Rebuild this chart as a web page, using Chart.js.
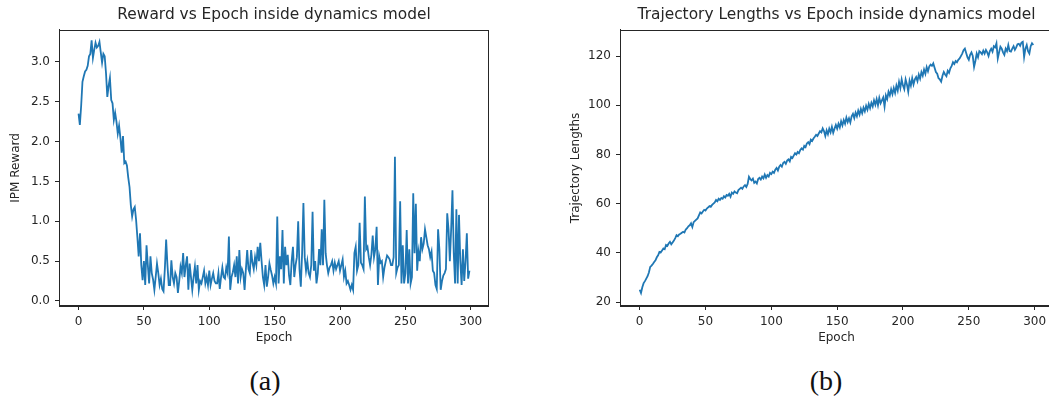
<!DOCTYPE html>
<html>
<head>
<meta charset="utf-8">
<script src="https://cdn.jsdelivr.net/npm/chart.js@4.4.0/dist/chart.umd.min.js"></script>
<style>
  html, body { margin: 0; padding: 0; background: #fff; overflow: hidden; }
  body { width: 1049px; height: 402px; position: relative; }
  canvas { position: absolute; top: 0; }
  #rewardChart { left: 0; }
  #lengthChart { left: 560px; }
  .caption { position: absolute; top: 365px; font-family: 'Liberation Serif', serif; font-size: 28px; color: #111; transform: translateX(-50%); }
</style>
</head>
<body>
<canvas id="rewardChart" width="489" height="350"></canvas>
<canvas id="lengthChart" width="493" height="350"></canvas>
<div class="caption" style="left:265px">(a)</div>
<div class="caption" style="left:826px">(b)</div>
<script>
'use strict';

// IPM reward per epoch
const reward = [
  2.35, 2.21, 2.45, 2.75, 2.82, 2.88, 2.9, 2.95, 3.07, 3.1,
  3.27, 3.05, 3.15, 3.24, 3.18, 3.2, 3.25, 3.12, 2.99, 3.1,
  3.07, 2.86, 2.56, 2.7, 2.8, 2.52, 2.48, 2.27, 2.36, 2.25,
  2.1, 2.2, 2.05, 1.86, 2.07, 1.73, 1.75, 1.7, 1.55, 1.43,
  1.2, 1.06, 1.15, 1.18, 1.02, 0.8, 0.56, 0.85, 0.45, 0.26,
  0.5, 0.2, 0.7, 0.45, 0.22, 0.56, 0.35, 0.27, 0.14, 0.3,
  0.47, 0.35, 0.2, 0.28, 0.15, 0.12, 0.4, 0.77, 0.45, 0.2,
  0.2, 0.51, 0.3, 0.22, 0.35, 0.3, 0.1, 0.25, 0.43, 0.35,
  0.6, 0.3, 0.45, 0.56, 0.14, 0.47, 0.3, 0.14, 0.3, 0.43,
  0.22, 0.45, 0.14, 0.25, 0.22, 0.3, 0.38, 0.22, 0.3, 0.2,
  0.38, 0.2, 0.28, 0.35, 0.25, 0.22, 0.22, 0.35, 0.15, 0.3,
  0.42, 0.3, 0.28, 0.42, 0.35, 0.81, 0.14, 0.3, 0.36, 0.45,
  0.3, 0.56, 0.22, 0.64, 0.3, 0.4, 0.35, 0.14, 0.4, 0.64,
  0.4, 0.35, 0.64, 0.48, 0.4, 0.55, 0.45, 0.68, 0.5, 0.73,
  0.5, 0.3, 0.2, 0.45, 0.18, 0.3, 0.47, 0.39, 0.32, 0.22,
  0.3, 0.22, 1.06, 0.22, 0.56, 0.4, 0.89, 0.22, 0.68, 0.45,
  0.58, 0.32, 0.2, 0.5, 0.68, 0.3, 0.45, 0.55, 1.0, 0.4,
  0.18, 0.6, 1.23, 0.55, 0.38, 0.5, 0.35, 0.3, 0.45, 1.12,
  0.38, 0.5, 0.22, 0.35, 0.65, 0.45, 0.9, 0.45, 1.27, 0.6,
  0.45, 0.35, 0.42, 0.45, 0.5, 0.38, 0.48, 0.4, 0.45, 0.5,
  0.38, 0.45, 0.52, 0.3, 0.38, 0.22, 0.25, 0.2, 0.14, 0.2,
  0.14, 0.6, 0.68, 0.38, 0.45, 0.98, 0.48, 0.45, 0.4, 1.31,
  0.65, 0.68, 0.55, 0.45, 0.58, 0.82, 0.55, 0.65, 0.93, 0.2,
  0.56, 0.48, 0.5, 0.3, 0.42, 0.5, 0.57, 0.55, 0.52, 0.45,
  0.45, 0.55, 1.81, 0.35, 0.42, 0.45, 1.25, 0.22, 0.7, 0.22,
  0.35, 0.89, 0.22, 0.65, 0.22, 0.3, 1.35, 0.6, 1.22, 0.38,
  0.62, 0.5, 0.8, 0.65, 0.72, 0.9, 0.8, 0.7, 0.65, 0.55,
  0.62, 0.38, 0.35, 0.2, 0.15, 0.9, 0.65, 0.14, 0.25, 0.32,
  0.35, 0.4, 1.1, 0.9, 0.5, 0.9, 1.39, 0.6, 0.22, 1.15,
  0.22, 1.08, 0.5, 0.2, 0.65, 0.25, 0.5, 0.85, 0.28, 0.38
];

// trajectory length per epoch
const trajLength = [
  25, 23.7, 26, 27.7, 28.5, 29.5, 30.5, 32, 34.3, 34.8,
  35.5, 36.3, 37, 38.2, 39, 40.4, 40.2, 41, 41.8, 41.5,
  43.2, 42.8, 43.8, 44.5, 43.5, 44.2, 45, 46, 47.2, 46.8,
  47.5, 47.8, 48.2, 48.6, 48.3, 49.5, 50, 50.8, 51.2, 52,
  50.5, 52.5, 53, 53.5, 54, 55.2, 56.4, 56, 56.8, 57.5,
  57.2, 58, 58.5, 59, 58.7, 59.5, 60, 60.5, 61.5, 61,
  62, 61.5, 62.3, 62, 63, 62.5, 63.5, 63.2, 64, 62.8,
  64.5, 64, 65, 64.5, 64.2, 65.5, 66, 66.5, 66, 67,
  67.5, 66.8, 68, 70.9, 70, 69.5, 70.2, 68.5, 69, 68.2,
  70, 70.5, 69.8, 71, 70.3, 71.8, 70.5, 71.6, 71, 72.5,
  72, 73, 72.5, 73.8, 74.5, 73.5, 75, 75.7, 75, 76.5,
  77, 76.2, 77.5, 78, 77.2, 79, 78.5, 79.5, 80.5, 80,
  81, 80.5, 81.8, 82.5, 82, 83.5, 83, 84.5, 85, 84.2,
  86, 85.5, 86.5, 87.2, 88, 87.5, 88.5, 89.5, 89, 90.6,
  89.5, 87.5, 89.8, 88.2, 90.5, 89, 91.2, 88.8, 90.5, 92,
  90.5, 92.5, 91, 93.5, 91.8, 94, 92.5, 95, 93.2, 94.7,
  93, 95.5, 96.5, 94.8, 97, 95.5, 97.8, 96.2, 98.5, 96.8,
  99, 97.5, 99.8, 98.2, 100.5, 98.8, 101, 99.5, 102, 100.2,
  102.5, 100, 103, 100.8, 102, 103.2, 99.5, 104, 102.5, 105.5,
  104, 106.5, 104.5, 107, 105, 108, 106, 109.5, 107, 110.5,
  108, 106.5, 110.5, 108.5, 105.5, 110, 108, 111, 108.5, 110.5,
  111.5, 109.8, 112.5, 110.8, 113.5, 112, 114.5, 112.8, 115.5, 113.8,
  115.8, 116.5, 116, 117, 115.2, 113.5, 112.8, 111, 110.5, 109.6,
  112, 113.5, 112.5, 111.8, 114, 113.2, 115, 116, 117.5, 116.8,
  118, 117.5, 118.5, 119, 120, 121, 122.4, 123, 121.2, 119.5,
  118.5, 120.5, 121.5, 120, 115.6, 118, 121, 119.5, 122, 121.5,
  120.8, 122.2, 121, 122.5, 121.5, 120, 122, 123, 121.8, 124,
  123.5, 125.2, 119, 121.5, 123.8, 123, 121.5, 120.5, 123, 122,
  124.5, 122, 121.8, 123, 124, 122.5, 123.5, 124.8, 125, 124.2,
  125.5, 125.8, 119.6, 123, 124.5, 122, 121, 124, 125.2, 124.5
];

const epochs = reward.map((v, i) => i);

const textColor = '#262626';
const lineColor = '#1f77b4';

// full box round the plot area, like matplotlib's axes frame
const framePlugin = {
  id: 'frame',
  afterDraw(chart) {
    const ctx = chart.ctx;
    const a = chart.chartArea;
    ctx.save();
    ctx.strokeStyle = textColor;
    ctx.lineWidth = 1;
    ctx.strokeRect(Math.round(a.left) + 0.5, Math.round(a.top) + 0.5,
      Math.round(a.right - a.left) - 1, Math.round(a.bottom - a.top) - 1);
    ctx.restore();
  }
};

function makeChart(id, values, title, yTitle, yMin, yMax, yStep, yAxisWidth, yFormat) {
  const ctx = document.getElementById(id).getContext('2d');
  return new Chart(ctx, {
    type: 'line',
    data: {
      datasets: [{
        data: epochs.map((e, i) => ({x: e, y: values[i]})),
        borderColor: lineColor,
        borderWidth: 1.8,
        pointRadius: 0,
        tension: 0,
        fill: false
      }]
    },
    options: {
      responsive: false,
      animation: false,
      layout: {padding: 0},
      plugins: {
        legend: {display: false},
        tooltip: {enabled: false},
        title: {
          display: true,
          fullSize: false,
          text: title,
          color: textColor,
          font: {family: 'DejaVu Sans', size: 15.4, weight: 'normal'},
          padding: {top: 6, bottom: 5.5}
        }
      },
      scales: {
        x: {
          type: 'linear',
          min: -14.95,
          max: 313.95,
          afterFit(scale) { scale.height = 44; },
          grid: {display: true, drawOnChartArea: false, drawTicks: true, tickLength: 4, color: textColor},
          border: {display: true, color: textColor},
          ticks: {
            stepSize: 50,
            includeBounds: false,
            autoSkip: false,
            maxRotation: 0,
            padding: 5,
            color: textColor,
            font: {family: 'DejaVu Sans', size: 12},
            callback: v => String(v)
          },
          title: {
            display: true,
            text: 'Epoch',
            color: textColor,
            font: {family: 'DejaVu Sans', size: 12},
            padding: {top: 0, bottom: 5}
          }
        },
        y: {
          min: yMin,
          max: yMax,
          afterFit(scale) { scale.width = yAxisWidth; },
          grid: {display: true, drawOnChartArea: false, drawTicks: true, tickLength: 4, color: textColor},
          border: {display: true, color: textColor},
          ticks: {
            stepSize: yStep,
            includeBounds: false,
            padding: 5,
            color: textColor,
            font: {family: 'DejaVu Sans', size: 12},
            callback: yFormat
          },
          title: {
            display: true,
            text: yTitle,
            color: textColor,
            font: {family: 'DejaVu Sans', size: 12},
            padding: {top: 9, bottom: 0}
          }
        }
      }
    },
    plugins: [framePlugin]
  });
}

makeChart('rewardChart', reward, 'Reward vs Epoch inside dynamics model', 'IPM Reward',
  -0.063, 3.40, 0.5, 59, v => v.toFixed(1));
makeChart('lengthChart', trajLength, 'Trajectory Lengths vs Epoch inside dynamics model', 'Trajectory Lengths',
  18.4, 130.6, 20, 60, v => String(v));
</script>
</body>
</html>
